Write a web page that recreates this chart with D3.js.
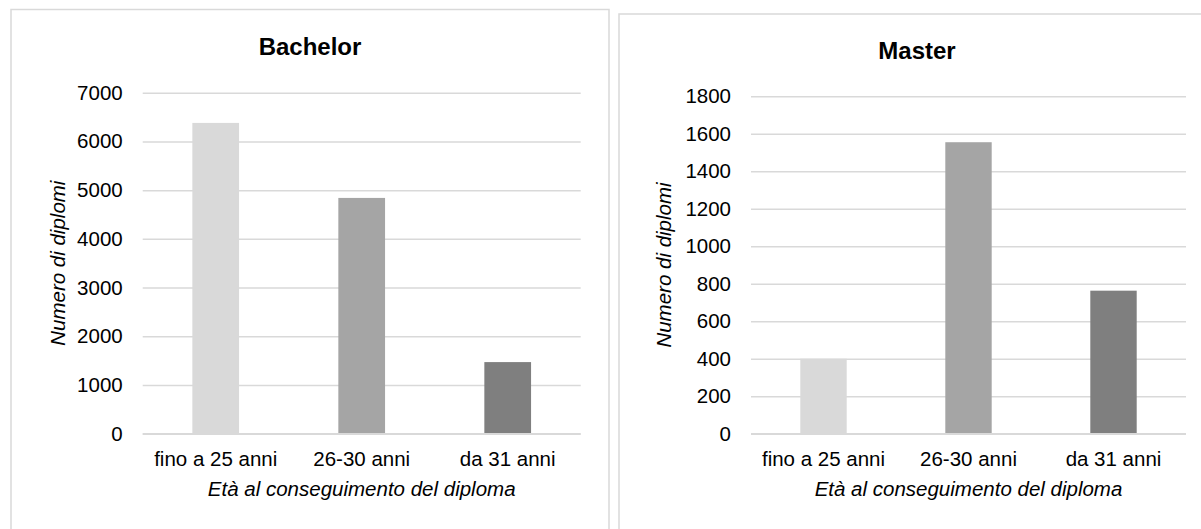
<!DOCTYPE html>
<html>
<head>
<meta charset="utf-8">
<script src="https://cdn.jsdelivr.net/npm/d3@7"></script>
<style>
  html, body { margin: 0; padding: 0; background: #fff; }
  svg { display: block; }
  text { font-family: "Liberation Sans", Arial, sans-serif; fill: #000; }
</style>
</head>
<body>
<svg id="chart" width="1201" height="529"></svg>
<script>
const categories = ["fino a 25 anni", "26-30 anni", "da 31 anni"];
const bachelorValues = [6380, 4840, 1470];
const masterValues = [400, 1555, 763];
const bachelorTicks = [0, 1000, 2000, 3000, 4000, 5000, 6000, 7000];
const masterTicks = [0, 200, 400, 600, 800, 1000, 1200, 1400, 1600, 1800];
const barColors = ["#d9d9d9", "#a5a5a5", "#7f7f7f"];
const yTitle = "Numero di diplomi";
const xTitle = "Età al conseguimento del diploma";

const svg = d3.select("#chart");

function panel(cfg) {
  const g = svg.append("g");
  g.append("rect")
    .attr("x", cfg.box[0]).attr("y", cfg.box[1])
    .attr("width", cfg.box[2]).attr("height", cfg.box[3])
    .attr("fill", "#fff").attr("stroke", "#d9d9d9").attr("stroke-width", 1.5);

  const x = d3.scaleBand().domain(categories)
    .range([cfg.x0, cfg.x1]).paddingInner(0.68).paddingOuter(0.34);
  const y = d3.scaleLinear().domain([0, d3.max(cfg.ticks)])
    .range([cfg.yBottom, cfg.yTop]);

  const yAxis = d3.axisLeft(y).tickValues(cfg.ticks).tickSize(-(cfg.x1 - cfg.x0)).tickPadding(20).tickFormat(d3.format("d"));
  const ga = g.append("g").attr("transform", `translate(${cfg.x0},0)`).call(yAxis);
  ga.select(".domain").remove();
  ga.selectAll(".tick line").attr("stroke", "#d9d9d9").attr("stroke-width", 1.5);
  ga.selectAll(".tick text").attr("font-size", 20.5).attr("fill", "#000")
    .attr("font-family", "'Liberation Sans', Arial, sans-serif");

  g.selectAll("rect.bar").data(cfg.values).enter().append("rect")
    .attr("class", "bar")
    .attr("x", (d, i) => x(categories[i]))
    .attr("width", x.bandwidth())
    .attr("y", d => y(d))
    .attr("height", d => y(0) - y(d))
    .attr("fill", (d, i) => barColors[i]);

  g.append("line").attr("x1", cfg.x0).attr("x2", cfg.x1)
    .attr("y1", y(0)).attr("y2", y(0))
    .attr("stroke", "#d9d9d9").attr("stroke-width", 1.5);

  const xAxis = d3.axisBottom(x).tickSize(0).tickPadding(0);
  const gx = g.append("g").attr("transform", `translate(0,${y(0)})`).call(xAxis);
  gx.select(".domain").remove();
  gx.selectAll(".tick text").attr("font-size", 20.5).attr("fill", "#000")
    .attr("dy", null).attr("y", 32.5)
    .attr("font-family", "'Liberation Sans', Arial, sans-serif");

  g.append("text").attr("x", cfg.titleX).attr("y", cfg.titleY)
    .attr("text-anchor", "middle").attr("font-size", 24).attr("font-weight", "bold")
    .text(cfg.title);

  g.append("text")
    .attr("transform", `translate(${cfg.yTitleX},${(cfg.yTop + cfg.yBottom) / 2}) rotate(-90)`)
    .attr("text-anchor", "middle").attr("font-size", 20.5).attr("font-style", "italic")
    .text(yTitle);
  g.append("text").attr("x", (cfg.x0 + cfg.x1) / 2).attr("y", y(0) + 62.5)
    .attr("text-anchor", "middle").attr("font-size", 20.5).attr("font-style", "italic")
    .text(xTitle);
}

panel({
  box: [11, 9.5, 598, 560],
  x0: 142.7, x1: 580.7, yTop: 92.7, yBottom: 433.7,
  ticks: bachelorTicks, values: bachelorValues,
  title: "Bachelor", titleX: 310, titleY: 54.5, yTitleX: 64.5
});
panel({
  box: [619, 14, 600, 560],
  x0: 751, x1: 1186, yTop: 96.3, yBottom: 433.7,
  ticks: masterTicks, values: masterValues,
  title: "Master", titleX: 917, titleY: 58.5, yTitleX: 671
});
</script>
</body>
</html>
